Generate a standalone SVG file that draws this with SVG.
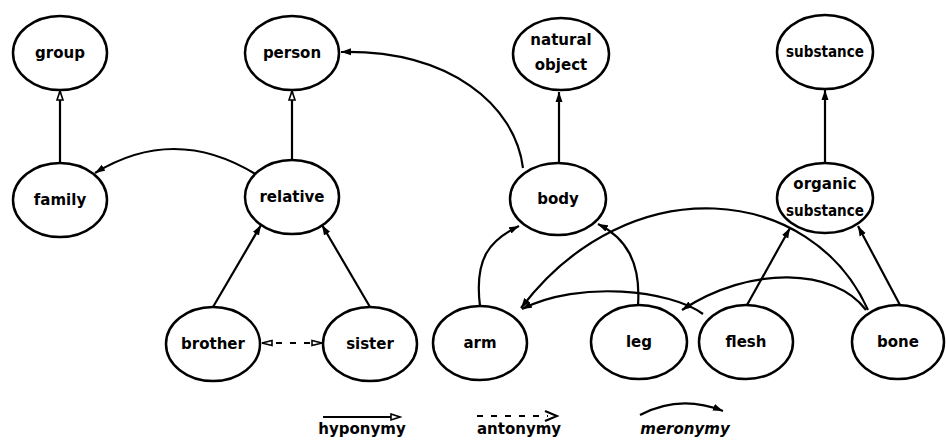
<svg xmlns="http://www.w3.org/2000/svg" width="946" height="440" viewBox="0 0 946 440">
<style>
  .node ellipse { fill: #fff; stroke: #000; stroke-width: 2.5; }
  .node text, .lg text { font-family: "DejaVu Sans", "Liberation Sans", sans-serif; font-weight: bold; font-size: 15px; text-anchor: middle; fill: #000; }
  .edge { fill: none; stroke: #000; stroke-width: 2.2; }
  .hypo { marker-end: url(#arrFill); }
  .hypoO { marker-end: url(#arrOpen); }
  .mero { marker-end: url(#arrMero); }
  .anto { stroke-dasharray: 6 8; marker-start: url(#arrAnto); marker-end: url(#arrAnto); }
</style>
<defs>
  <marker id="arrFill" markerUnits="userSpaceOnUse" markerWidth="12" markerHeight="10" refX="10" refY="4" orient="auto">
    <path d="M0,0.5 L10,4 L0,7.5 z" fill="#000"/>
  </marker>
  <marker id="arrOpen" markerUnits="userSpaceOnUse" markerWidth="12" markerHeight="10" refX="10" refY="4" orient="auto">
    <path d="M1,1 L10,4 L1,7 z" fill="#fff" stroke="#000" stroke-width="1.6"/>
  </marker>
  <marker id="arrMero" markerUnits="userSpaceOnUse" markerWidth="14" markerHeight="10" refX="10" refY="4" orient="auto">
    <path d="M0,0.5 L10,4 L0,7.5 z" fill="#000"/>
  </marker>
  <marker id="arrAnto" markerUnits="userSpaceOnUse" markerWidth="14" markerHeight="10" refX="11" refY="4" orient="auto-start-reverse">
    <path d="M1,1.5 L11,4 L1,6.5 z" fill="#fff" stroke="#000" stroke-width="1.6"/>
  </marker>
</defs>
<rect width="946" height="440" fill="#fff"/>

<g id="connectors">
  <!-- hyponymy -->
  <line class="edge hypoO" x1="60" y1="163" x2="60" y2="91"/>
  <line class="edge hypoO" x1="292" y1="160" x2="292" y2="91"/>
  <line class="edge hypo" x1="559" y1="162" x2="559" y2="92"/>
  <line class="edge hypo" x1="825" y1="163" x2="825" y2="90"/>
  <line class="edge hypo" x1="213" y1="307" x2="261" y2="225"/>
  <line class="edge hypo" x1="370" y1="307" x2="322" y2="225"/>
  <line class="edge hypo" x1="747" y1="305" x2="790" y2="228"/>
  <line class="edge hypo" x1="900" y1="305" x2="858" y2="226"/>
  <!-- antonymy -->
  <line class="edge anto" x1="262" y1="343" x2="322" y2="343"/>
  <!-- meronymy -->
  <path class="edge mero" d="M523,168 C515,105 450,50 341,52"/>
  <path class="edge mero" d="M257,175 Q175,124 95,173"/>
  <path class="edge mero" d="M480,306 C474,258 490,240 519,226"/>
  <path class="edge mero" d="M638,305 C641,262 626,238 598,224"/>
  <path class="edge mero" d="M868,310 C812,185 630,165 521,308"/>
  <path class="edge mero" d="M703,314 C670,290 580,280 522,309"/>
  <path class="edge mero" d="M866,310 C835,268 750,265 682,310"/>
</g>

<g id="group" class="node"><ellipse cx="60" cy="53" rx="47" ry="37"/><text x="60" y="58">group</text></g>
<g id="person" class="node"><ellipse cx="292" cy="53" rx="47" ry="37"/><text x="292" y="58">person</text></g>
<g id="natural-object" class="node"><ellipse cx="561" cy="54" rx="48" ry="36"/><text x="561" y="45">natural</text><text x="561" y="70">object</text></g>
<g id="substance" class="node"><ellipse cx="825" cy="52" rx="48" ry="37"/><text x="825" y="57" textLength="78" lengthAdjust="spacingAndGlyphs">substance</text></g>
<g id="family" class="node"><ellipse cx="60" cy="200" rx="47" ry="37"/><text x="60" y="205">family</text></g>
<g id="relative" class="node"><ellipse cx="292" cy="197" rx="47" ry="37"/><text x="292" y="202">relative</text></g>
<g id="body" class="node"><ellipse cx="558" cy="199" rx="48" ry="36"/><text x="558" y="204">body</text></g>
<g id="organic-substance" class="node"><ellipse cx="825" cy="198" rx="48" ry="35"/><text x="825" y="189">organic</text><text x="825" y="216" textLength="78" lengthAdjust="spacingAndGlyphs">substance</text></g>
<g id="brother" class="node"><ellipse cx="213" cy="344" rx="47" ry="37"/><text x="213" y="349">brother</text></g>
<g id="sister" class="node"><ellipse cx="370" cy="344" rx="47" ry="37"/><text x="370" y="349">sister</text></g>
<g id="arm" class="node"><ellipse cx="480" cy="343" rx="47" ry="37"/><text x="480" y="348">arm</text></g>
<g id="leg" class="node"><ellipse cx="639" cy="342" rx="48" ry="37"/><text x="639" y="347">leg</text></g>
<g id="flesh" class="node"><ellipse cx="746" cy="342" rx="47" ry="37"/><text x="746" y="347">flesh</text></g>
<g id="bone" class="node"><ellipse cx="898" cy="342" rx="46" ry="37"/><text x="898" y="347">bone</text></g>

<g id="legend" class="lg">
  <line class="edge" x1="323" y1="417" x2="400" y2="417" marker-end="url(#arrOpen)"/>
  <text x="362" y="434">hyponymy</text>
  <line class="edge" x1="477" y1="416" x2="548" y2="416" stroke-dasharray="6 8"/>
  <polyline points="545,411 557,416 545,421" fill="none" stroke="#000" stroke-width="2"/>
  <text x="519" y="434">antonymy</text>
  <path class="edge mero" d="M640,415 Q680,394 723,411"/>
  <text x="685" y="434" font-style="italic">meronymy</text>
</g>
</svg>
